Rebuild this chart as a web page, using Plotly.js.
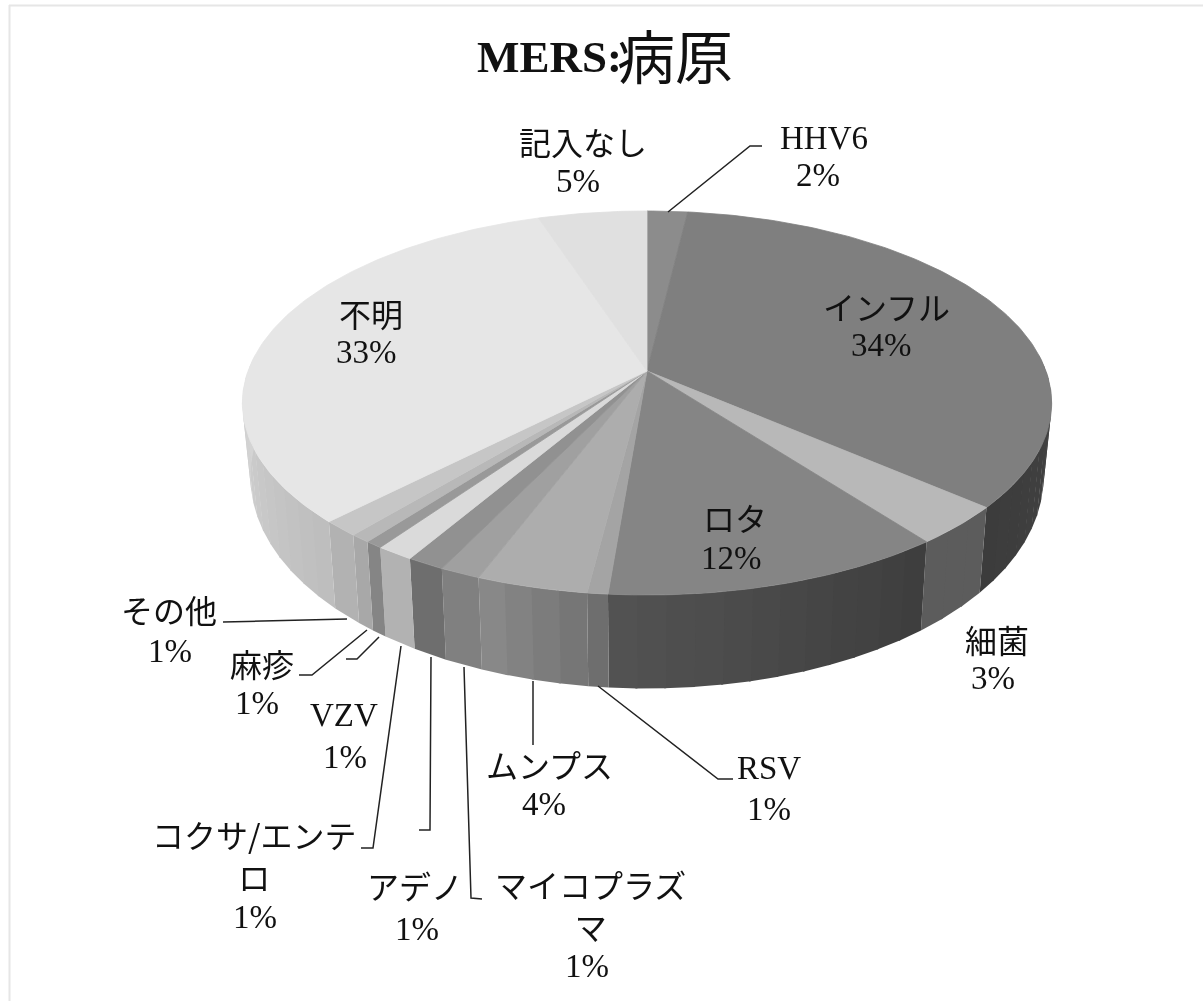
<!DOCTYPE html>
<html>
<head>
<meta charset="utf-8">
<script src="https://cdn.plot.ly/plotly-3.0.1.min.js"></script>
<style>html,body{margin:0;padding:0;background:#fff}#chart{width:1203px;height:1001px;filter:blur(0.55px)}</style>
</head>
<body>
<div id="chart"></div>
<script>
// ---- data ----
const categories = ['HHV6','インフル','細菌','ロタ','RSV','ムンプス','マイコプラズマ','アデノ','コクサ/エンテロ','VZV','麻疹','その他','不明','記入なし'];
const shares     = [1.9, 34.4, 3.3, 11.7, 0.7, 3.8, 1.4, 1.3, 1.3, 0.6, 0.7, 1.3, 32.5, 5.1];
const nameLines  = [['HHV6'],['インフル'],['細菌'],['ロタ'],['RSV'],['ムンプス'],['マイコプラズ<br>マ'],['アデノ'],['コクサ/エンテ<br>ロ'],['VZV'],['麻疹'],['その他'],['不明'],['記入なし']];

// ---- styles ----
const topGrey   = [0x8c,0x7f,0xb8,0x85,0xa4,0xad,0xa0,0x91,0xda,0x99,0xb8,0xc6,0xe6,0xe0];
const wallFrom  = [0x50,0x44,0x5c,0x3e,0x6e,0x76,0x80,0x6e,0xb2,0x85,0xa8,0xb2,0xbe,0xd8];
const wallTo    = [0x50,0x3c,0x5c,0x52,0x6e,0x88,0x80,0x72,0xb0,0x85,0xa8,0xae,0xd8,0xd8];

// ---- layout (pixel space of the plot) ----
const labelX = [[824,818],[886,881],[997,993],[735,731],[769,769],[549,544],[590,587],[415,417],[254,255],[344,345],[262,257],[169,170],[371,366],[583,578]];
const labelY = [[138,175],[306,345],[639,678],[517,558],[768,809],[764,804],[905,966],[885,929],[855,917],[715,757],[663,703],[609,651],[313,352],[141,181]];
const leaderX = [[668,750,762],null,null,null,[598,718,733],[533,533],[464,471,482],[431,430,419],[401,373,361],[379,357,346],[367,312,299],[347,223],null,null];
const leaderY = [[212,146,146],null,null,null,[686,779,779],[681,745],[667,898,899],[657,830,830],[646,848,848],[637,659,659],[630,675,675],[619,622],null,null];

const cx = 647, cy = 371, R = 399, a = 186.67, b = 1/6, baseScale = 0.98;
const DEG = Math.PI/180;
function topPt(th){
  const t = Math.cos(th*DEG), s = Math.sin(th*DEG), w = 1 + b*t;
  return [cx + R*s/w, cy - a*t/w];
}
function basePt(th){
  const p = topPt(th), t = Math.cos(th*DEG);
  return [cx + (p[0]-cx)*baseScale, p[1] + 70 - 23.5*t];
}
const grey = v => { const g = Math.round(v); return `rgb(${g},${g},${g})`; };
function poly(xs, ys, g, lw){
  return {type:'scatter', mode:'lines', x:xs, y:ys, fill:'toself', fillcolor:grey(g),
          line:{color:grey(g), width:lw}, hoverinfo:'skip', showlegend:false};
}

const total = shares.reduce((p,c)=>p+c,0);
const bounds = [0];
shares.forEach(v => bounds.push(bounds[bounds.length-1] + v/total*360));

const traces = [];
// side wall, strips of the visible front part, slightly overlapping to hide seams
const wallStart = 85, wallEnd = 275, stripStep = 3.5;
shares.forEach((v,i) => {
  const s = Math.max(bounds[i], wallStart), e = Math.min(bounds[i+1], wallEnd);
  if (e <= s) return;
  const n = Math.max(1, Math.round((e-s)/stripStep));
  for (let k=0;k<n;k++){
    const a0 = s + (e-s)*k/n, a1 = Math.min(e, s + (e-s)*(k+1)/n + 0.25);
    const mid = (a0+a1)/2;
    const top0 = topPt(a0), topM = topPt(mid), top1 = topPt(a1);
    const bot1 = basePt(a1), botM = basePt(mid), bot0 = basePt(a0);
    const f = n>1 ? k/(n-1) : 0;
    traces.push(poly([top0[0],topM[0],top1[0],bot1[0],botM[0],bot0[0],top0[0]],
                     [top0[1],topM[1],top1[1],bot1[1],botM[1],bot0[1],top0[1]],
                     wallFrom[i] + (wallTo[i]-wallFrom[i])*f, 0));
  }
});
// top face
shares.forEach((v,i) => {
  const xs=[cx], ys=[cy];
  const n = Math.max(3, Math.ceil(bounds[i+1]-bounds[i]));
  for (let k=0;k<=n;k++){
    const p = topPt(bounds[i] + (bounds[i+1]-bounds[i])*k/n);
    xs.push(p[0]); ys.push(p[1]);
  }
  xs.push(cx); ys.push(cy);
  traces.push(poly(xs,ys,topGrey[i],0.8));
});
// leader lines
categories.forEach((c,i) => {
  if (!leaderX[i]) return;
  traces.push({type:'scatter', mode:'lines', x:leaderX[i], y:leaderY[i],
               line:{color:'#222', width:1.5}, hoverinfo:'skip', showlegend:false});
});

const labelFont = {family:'"Liberation Serif","Noto Sans CJK JP",serif', size:33, color:'#111'};
const kanaFont  = {family:'"Noto Sans CJK JP",sans-serif', size:32, color:'#111'};
const isLatin = s => /^[A-Za-z0-9%]+$/.test(s);
const annotations = [];
categories.forEach((c,i) => {
  const lines = nameLines[i].concat([Math.round(shares[i]/total*100)+'%']);
  lines.forEach((txt,k) => {
    annotations.push({xref:'x', yref:'y', x:labelX[i][k], y:labelY[i][k], text:txt, showarrow:false,
      xanchor:'center', yanchor:'middle', align:'center', font:isLatin(txt)?labelFont:kanaFont});
  });
});
annotations.push({xref:'x', yref:'y', x:549, y:57, text:'MERS:', showarrow:false, xanchor:'center', yanchor:'middle',
  font:{family:'"Liberation Serif",serif', size:45, color:'#111', weight:700}});
annotations.push({xref:'x', yref:'y', x:675, y:54, text:'病原', showarrow:false, xanchor:'center', yanchor:'middle',
  font:{family:'"Noto Sans CJK JP",sans-serif', size:58, color:'#111'}});

const layout = {
  width:1203, height:1001, margin:{l:0,r:0,t:0,b:0}, showlegend:false,
  paper_bgcolor:'#fff', plot_bgcolor:'#fff',
  xaxis:{range:[0,1203], visible:false, fixedrange:true},
  yaxis:{range:[1001,0], visible:false, fixedrange:true},
  annotations,
  shapes:[
    {type:'line', xref:'x', yref:'y', x0:9, x1:1203, y0:5.5, y1:5.5, line:{color:'#e6e6e6', width:2}},
    {type:'line', xref:'x', yref:'y', x0:9.5, x1:9.5, y0:5, y1:1001, line:{color:'#e6e6e6', width:2}}
  ]
};
Plotly.newPlot('chart', traces, layout, {staticPlot:true, displayModeBar:false});
</script>
</body>
</html>
